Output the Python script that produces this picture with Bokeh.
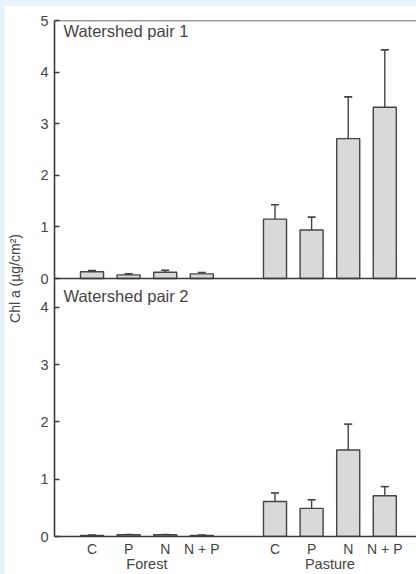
from bokeh.plotting import figure
from bokeh.models import (Range1d, FixedTicker, Span, Label, Whisker, TeeHead,
                          ColumnDataSource, LinearAxis)
from bokeh.layouts import column
from bokeh.embed import file_html
from bokeh.resources import INLINE

# ---- data ----
sites = ["Forest", "Pasture"]
treatments = ["C", "P", "N", "N + P"]
pair1_mean = [0.13, 0.07, 0.12, 0.09, 1.15, 0.94, 2.71, 3.32]
pair1_err = [0.025, 0.02, 0.04, 0.025, 0.28, 0.25, 0.81, 1.11]
pair2_mean = [0.02, 0.03, 0.03, 0.02, 0.61, 0.49, 1.51, 0.71]
pair2_err = [0.005, 0.005, 0.005, 0.004, 0.15, 0.15, 0.45, 0.16]
panel_titles = ["Watershed pair 1", "Watershed pair 2"]
top_ticks = [0, 1, 2, 3, 4, 5]
bottom_ticks = [0, 1, 2, 3, 4]
y_label = "Chl a (\u00b5g/cm\u00b2)"

FONT = "Liberation Sans"
LINE = "#3a3a3a"
TEXT = "#454545"

# x positions: two groups of four, one empty slot between groups
xpos = []
for gi, _ in enumerate(sites):
    for ti, _ in enumerate(treatments):
        xpos.append(gi * (len(treatments) + 1) + ti)
n = len(treatments)
group_centers = [sum(xpos[gi * n:(gi + 1) * n]) / n for gi in range(len(sites))]

TOP_LO, TOP_HI = -5.0, 5.0
BOT_LO, BOT_HI = 0.0, 9.0

p = figure(width=412, height=569,
           x_range=Range1d(-1.025, 8.866), y_range=Range1d(BOT_LO, BOT_HI),
           output_backend="svg", toolbar_location=None,
           min_border_left=50, min_border_top=15, min_border_bottom=38,
           min_border_right=0, margin=(5, 0, 0, 4),
           outline_line_color=None, background_fill_color="white",
           border_fill_color="white", x_axis_type=None, y_axis_type=None)
p.extra_y_ranges = {"top": Range1d(TOP_LO, TOP_HI)}
p.grid.visible = False

# bars
def draw_panel(means, errs, range_name):
    src = ColumnDataSource(dict(x=xpos, top=means,
                                hi=[m + e for m, e in zip(means, errs)]))
    kw = {} if range_name is None else {"y_range_name": range_name}
    p.vbar(x="x", top="top", bottom=0, width=0.63, source=src,
           fill_color="#d9d9d9", line_color="#444444", line_width=1.4, **kw)
    w = Whisker(source=src, base="x", lower="top", upper="hi",
                dimension="height", line_color="#444444", line_width=1.4,
                upper_head=TeeHead(size=8, line_color="#444444", line_width=1.6),
                lower_head=None, **kw)
    p.add_layout(w)

draw_panel(pair1_mean, pair1_err, "top")
draw_panel(pair2_mean, pair2_err, None)

# panel frame lines
p.add_layout(Span(location=TOP_HI, dimension="width", y_range_name="top",
                  line_color=LINE, line_width=1.6))
p.add_layout(Span(location=0, dimension="width", y_range_name="top",
                  line_color=LINE, line_width=1.6))

# y axis: one axis carrying both panels' scales
def top_to_bottom_units(v):
    return BOT_LO + (v - TOP_LO) / (TOP_HI - TOP_LO) * (BOT_HI - BOT_LO)

top_locs = [top_to_bottom_units(v) for v in top_ticks]
yaxis = LinearAxis(ticker=FixedTicker(ticks=list(bottom_ticks) + top_locs),
                   axis_label=y_label)
yaxis.major_label_overrides = {loc: str(v) for loc, v in zip(top_locs, top_ticks)}
yaxis.major_tick_in = 5
yaxis.major_tick_out = 0
yaxis.minor_tick_line_color = None
yaxis.major_label_standoff = 6
yaxis.axis_label_standoff = 14
yaxis.axis_line_color = LINE
yaxis.axis_line_width = 1.6
yaxis.major_tick_line_color = LINE
yaxis.major_tick_line_width = 1.4
yaxis.major_label_text_font = FONT
yaxis.major_label_text_font_size = "14.5px"
yaxis.major_label_text_color = TEXT
yaxis.axis_label_text_font = FONT
yaxis.axis_label_text_font_size = "14px"
yaxis.axis_label_text_font_style = "normal"
yaxis.axis_label_text_color = TEXT
p.add_layout(yaxis, "left")

# x axis with treatment labels
xaxis = LinearAxis(ticker=FixedTicker(ticks=xpos))
xaxis.major_label_overrides = {x: treatments[i % n] for i, x in enumerate(xpos)}
xaxis.major_tick_line_color = None
xaxis.major_tick_in = 0
xaxis.major_tick_out = 0
xaxis.minor_tick_line_color = None
xaxis.minor_tick_out = 0
xaxis.major_label_standoff = 4
xaxis.axis_line_color = LINE
xaxis.axis_line_width = 1.6
xaxis.major_label_text_font = FONT
xaxis.major_label_text_font_size = "14px"
xaxis.major_label_text_color = TEXT
p.add_layout(xaxis, "below")

# second axis carrying the site (group) labels
gaxis = LinearAxis(ticker=FixedTicker(ticks=group_centers))
gaxis.major_label_overrides = {c: s for c, s in zip(group_centers, sites)}
gaxis.axis_line_color = None
gaxis.major_tick_line_color = None
gaxis.major_tick_in = 0
gaxis.major_tick_out = 0
gaxis.minor_tick_line_color = None
gaxis.minor_tick_out = 0
gaxis.major_label_standoff = -4
gaxis.major_label_text_font = FONT
gaxis.major_label_text_font_size = "14.5px"
gaxis.major_label_text_color = TEXT
p.add_layout(gaxis, "below")

# panel titles
p.add_layout(Label(x=-0.78, y=4.80, y_range_name="top", text=panel_titles[0],
                   text_baseline="middle", text_font=FONT,
                   text_font_size="16.5px", text_color=TEXT))
p.add_layout(Label(x=-0.78, y=4.20, text=panel_titles[1],
                   text_baseline="middle", text_font=FONT,
                   text_font_size="16.5px", text_color=TEXT))

layout = column(p, width=416, height=574,
                styles={"background-color": "#e7f2fb"})

open("out.html", "w").write(file_html(layout, INLINE))
